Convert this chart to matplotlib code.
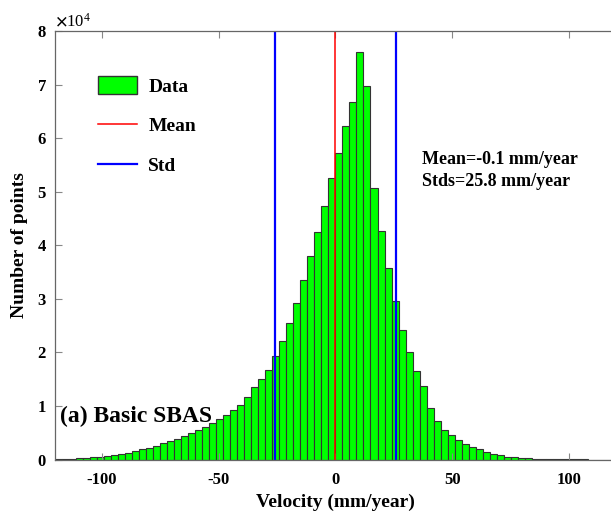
import numpy as np
import matplotlib
matplotlib.use("Agg")
import matplotlib.pyplot as plt
from matplotlib.lines import Line2D
from matplotlib.patches import Patch

plt.rcParams['font.family'] = ['Liberation Serif', 'DejaVu Serif']
plt.rcParams['font.weight'] = 'bold'
plt.rcParams['mathtext.fontset'] = 'stix'
plt.rcParams['axes.unicode_minus'] = False

# histogram bins (mm/year), 3 mm/year wide
bin_edges = np.arange(-120, 121, 3)
# counts per bin, in units of 1e4 points
counts_1e4 = [
    0.008, 0.012, 0.018, 0.025, 0.035, 0.045, 0.055, 0.07, 0.09, 0.11,
    0.13, 0.16, 0.19, 0.22, 0.26, 0.30, 0.34, 0.39, 0.43, 0.49,
    0.55, 0.61, 0.68, 0.75, 0.83, 0.92, 1.02, 1.17, 1.36, 1.51,
    1.68, 1.93, 2.22, 2.55, 2.92, 3.35, 3.79, 4.25, 4.73, 5.25,
    5.72, 6.22, 6.67, 7.60, 6.98, 5.07, 4.26, 3.57, 2.95, 2.42,
    2.00, 1.66, 1.37, 0.97, 0.71, 0.56, 0.45, 0.36, 0.29, 0.24,
    0.19, 0.14, 0.11, 0.08, 0.05, 0.04, 0.03, 0.02, 0.015, 0.01,
    0.008, 0.005, 0.004, 0.003, 0.002, 0.001, 0.0, 0.0, 0.0, 0.0,
]
counts = np.array(counts_1e4) * 1e4

mean_v = -0.1
std_v = 25.8

fig = plt.figure(figsize=(6.11, 5.12), dpi=100)
ax = fig.add_axes([0.090, 0.1025, 0.918, 0.837])

ax.hist(bin_edges[:-1], bins=bin_edges, weights=counts,
        color='#00ff00', edgecolor='#333333', linewidth=0.8)

ymax = 8e4
ax.plot([mean_v, mean_v], [0, ymax], color='red', lw=1.1)
ax.plot([mean_v - std_v, mean_v - std_v], [0, ymax], color='blue', lw=1.6)
ax.plot([mean_v + std_v, mean_v + std_v], [0, ymax], color='blue', lw=1.6)

ax.set_xlim(-120, 120)
ax.set_ylim(0, ymax)
ax.set_xticks([-100, -50, 0, 50, 100])
ax.set_yticks(np.arange(0, 8.1e4, 1e4))
ax.ticklabel_format(axis='y', style='sci', scilimits=(4, 4), useMathText=True)
ax.yaxis.get_offset_text().set_fontsize(12)
ax.yaxis.get_offset_text().set_fontweight('normal')
ax.tick_params(direction='in', length=5, width=0.8, labelsize=12,
               top=True, color='#888888')
ax.tick_params(axis='x', pad=9)
ax.tick_params(axis='y', pad=6)
for lab in ax.get_xticklabels() + ax.get_yticklabels():
    lab.set_fontweight('bold')
for s in ax.spines.values():
    s.set_color('#666666')
    s.set_linewidth(0.9)

ax.set_xlabel('Velocity (mm/year)', fontsize=14, fontweight='bold', labelpad=4)
ax.set_ylabel('Number of points', fontsize=14, fontweight='bold', labelpad=6)

handles = [Patch(facecolor='#00ff00', edgecolor='#333333', label='Data'),
           Line2D([0], [0], color='red', lw=1.1, label='Mean'),
           Line2D([0], [0], color='blue', lw=1.6, label='Std')]
ax.legend(handles=handles, loc='upper left', bbox_to_anchor=(0.045, 0.935),
          frameon=False, fontsize=14, handlelength=2.0, handleheight=1.0,
          labelspacing=1.05, handletextpad=0.6)

ax.text(37, 5.4e4, 'Mean=-0.1 mm/year\nStds=25.8 mm/year', fontsize=13,
        fontweight='bold', va='center', ha='left', linespacing=1.35)
ax.text(-118, 0.8e4, '(a) Basic SBAS', fontsize=17, fontweight='bold',
        va='center', ha='left')

fig.savefig('out.png', dpi=100)
